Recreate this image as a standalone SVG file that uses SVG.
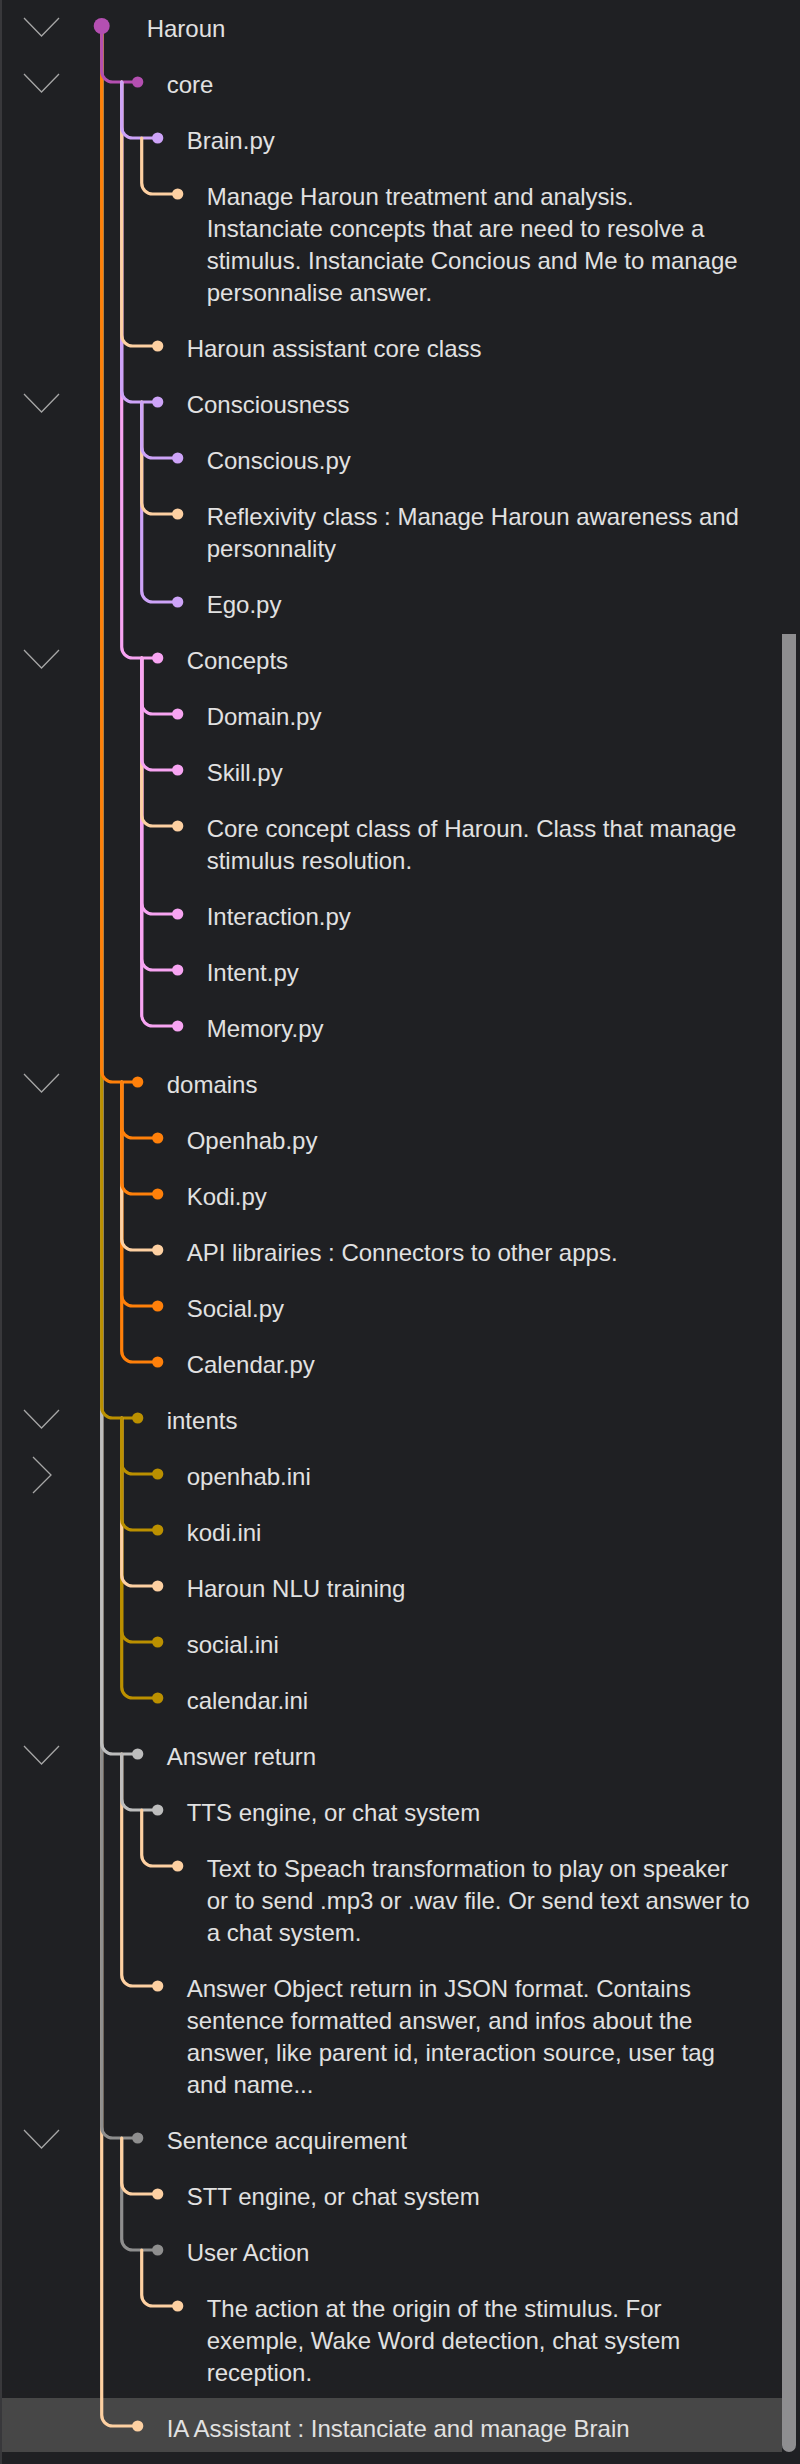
<svg xmlns="http://www.w3.org/2000/svg" width="800" height="2464" viewBox="0 0 800 2464">
<style>
.t{font-family:"Liberation Sans",Arial,sans-serif;font-size:24px;fill:#e1e1e1}
.c{fill:none;stroke-width:3.2;stroke-linecap:round}
.chev{fill:none;stroke:#a6a6a6;stroke-width:1.3}
.pu{stroke:#b44fb1}.dpu{fill:#b44fb1}
.la{stroke:#cda3f8}.dla{fill:#cda3f8}
.pk{stroke:#f7a4f2}.dpk{fill:#f7a4f2}
.pe{stroke:#fdd0a2}.dpe{fill:#fdd0a2}
.or{stroke:#ff800a}.dor{fill:#ff800a}
.ye{stroke:#bb9000}.dye{fill:#bb9000}
.lg{stroke:#bdbdbd}.dlg{fill:#bdbdbd}
.gr{stroke:#8e8e8e}.dgr{fill:#8e8e8e}
</style>
<rect x="0" y="0" width="800" height="2464" fill="#1f2023"/>
<rect x="0" y="0" width="2" height="2464" fill="#38383b"/>
<rect x="2" y="2398" width="780" height="54" fill="#474747"/>
<path d="M782 634 H796 V2445 A7 7 0 0 1 789 2452 A7 7 0 0 1 782 2445 Z" fill="#8e8e90"/>

<g id="connectors">
<path class="c pe" d="M101.7 26 V2415 A11 11 0 0 0 112.7 2426 H137.7"/>
<path class="c gr" d="M101.7 26 V2127 A11 11 0 0 0 112.7 2138 H137.7"/>
<path class="c lg" d="M101.7 26 V1743 A11 11 0 0 0 112.7 1754 H137.7"/>
<path class="c ye" d="M101.7 26 V1407 A11 11 0 0 0 112.7 1418 H137.7"/>
<path class="c or" d="M101.7 26 V1071 A11 11 0 0 0 112.7 1082 H137.7"/>
<path class="c pu" d="M101.7 26 V71 A11 11 0 0 0 112.7 82 H137.7"/>

<path class="c pk" d="M121.7 82 V647 A11 11 0 0 0 132.7 658 H157.7"/>
<path class="c la" d="M121.7 82 V391 A11 11 0 0 0 132.7 402 H157.7"/>
<path class="c pe" d="M121.7 82 V335 A11 11 0 0 0 132.7 346 H157.7"/>
<path class="c la" d="M121.7 82 V127 A11 11 0 0 0 132.7 138 H157.7"/>

<path class="c pe" d="M141.7 138 V183 A11 11 0 0 0 152.7 194 H177.7"/>

<path class="c la" d="M141.7 402 V591 A11 11 0 0 0 152.7 602 H177.7"/>
<path class="c pe" d="M141.7 402 V503 A11 11 0 0 0 152.7 514 H177.7"/>
<path class="c la" d="M141.7 402 V447 A11 11 0 0 0 152.7 458 H177.7"/>

<path class="c pk" d="M141.7 658 V1015 A11 11 0 0 0 152.7 1026 H177.7"/>
<path class="c pk" d="M141.7 658 V959 A11 11 0 0 0 152.7 970 H177.7"/>
<path class="c pk" d="M141.7 658 V903 A11 11 0 0 0 152.7 914 H177.7"/>
<path class="c pe" d="M141.7 658 V815 A11 11 0 0 0 152.7 826 H177.7"/>
<path class="c pk" d="M141.7 658 V759 A11 11 0 0 0 152.7 770 H177.7"/>
<path class="c pk" d="M141.7 658 V703 A11 11 0 0 0 152.7 714 H177.7"/>

<path class="c or" d="M121.7 1082 V1351 A11 11 0 0 0 132.7 1362 H157.7"/>
<path class="c or" d="M121.7 1082 V1295 A11 11 0 0 0 132.7 1306 H157.7"/>
<path class="c pe" d="M121.7 1082 V1239 A11 11 0 0 0 132.7 1250 H157.7"/>
<path class="c or" d="M121.7 1082 V1183 A11 11 0 0 0 132.7 1194 H157.7"/>
<path class="c or" d="M121.7 1082 V1127 A11 11 0 0 0 132.7 1138 H157.7"/>

<path class="c ye" d="M121.7 1418 V1687 A11 11 0 0 0 132.7 1698 H157.7"/>
<path class="c ye" d="M121.7 1418 V1631 A11 11 0 0 0 132.7 1642 H157.7"/>
<path class="c pe" d="M121.7 1418 V1575 A11 11 0 0 0 132.7 1586 H157.7"/>
<path class="c ye" d="M121.7 1418 V1519 A11 11 0 0 0 132.7 1530 H157.7"/>
<path class="c ye" d="M121.7 1418 V1463 A11 11 0 0 0 132.7 1474 H157.7"/>

<path class="c pe" d="M121.7 1754 V1975 A11 11 0 0 0 132.7 1986 H157.7"/>
<path class="c lg" d="M121.7 1754 V1799 A11 11 0 0 0 132.7 1810 H157.7"/>
<path class="c pe" d="M141.7 1810 V1855 A11 11 0 0 0 152.7 1866 H177.7"/>

<path class="c gr" d="M121.7 2138 V2239 A11 11 0 0 0 132.7 2250 H157.7"/>
<path class="c pe" d="M121.7 2138 V2183 A11 11 0 0 0 132.7 2194 H157.7"/>
<path class="c pe" d="M141.7 2250 V2295 A11 11 0 0 0 152.7 2306 H177.7"/>
</g>

<g id="n-haroun"><path class="chev" d="M24 18 L41.5 36 L59 18"/><circle class="dpu" cx="101.7" cy="26" r="8"/><text class="t" x="146.7" y="36.5">Haroun</text></g>
<g id="n-core"><path class="chev" d="M24 74 L41.5 92 L59 74"/><circle class="dpu" cx="137.7" cy="82" r="5.6"/><text class="t" x="166.7" y="92.5">core</text></g>
<g id="n-brain"><circle class="dla" cx="157.7" cy="138" r="5.6"/><text class="t" x="186.7" y="148.5">Brain.py</text></g>
<g id="n-brain-note"><circle class="dpe" cx="177.7" cy="194" r="5.6"/><text class="t" x="206.7" y="204.5"><tspan x="206.7">Manage Haroun treatment and analysis.</tspan><tspan x="206.7" dy="32">Instanciate concepts that are need to resolve a</tspan><tspan x="206.7" dy="32">stimulus. Instanciate Concious and Me to manage</tspan><tspan x="206.7" dy="32">personnalise answer.</tspan></text></g>
<g id="n-core-note"><circle class="dpe" cx="157.7" cy="346" r="5.6"/><text class="t" x="186.7" y="356.5">Haroun assistant core class</text></g>
<g id="n-consciousness"><path class="chev" d="M24 394 L41.5 412 L59 394"/><circle class="dla" cx="157.7" cy="402" r="5.6"/><text class="t" x="186.7" y="412.5">Consciousness</text></g>
<g id="n-conscious"><circle class="dla" cx="177.7" cy="458" r="5.6"/><text class="t" x="206.7" y="468.5">Conscious.py</text></g>
<g id="n-reflexivity"><circle class="dpe" cx="177.7" cy="514" r="5.6"/><text class="t" x="206.7" y="524.5"><tspan x="206.7">Reflexivity class : Manage Haroun awareness and</tspan><tspan x="206.7" dy="32">personnality</tspan></text></g>
<g id="n-ego"><circle class="dla" cx="177.7" cy="602" r="5.6"/><text class="t" x="206.7" y="612.5">Ego.py</text></g>
<g id="n-concepts"><path class="chev" d="M24 650 L41.5 668 L59 650"/><circle class="dpk" cx="157.7" cy="658" r="5.6"/><text class="t" x="186.7" y="668.5">Concepts</text></g>
<g id="n-domain"><circle class="dpk" cx="177.7" cy="714" r="5.6"/><text class="t" x="206.7" y="724.5">Domain.py</text></g>
<g id="n-skill"><circle class="dpk" cx="177.7" cy="770" r="5.6"/><text class="t" x="206.7" y="780.5">Skill.py</text></g>
<g id="n-concepts-note"><circle class="dpe" cx="177.7" cy="826" r="5.6"/><text class="t" x="206.7" y="836.5"><tspan x="206.7">Core concept class of Haroun. Class that manage</tspan><tspan x="206.7" dy="32">stimulus resolution.</tspan></text></g>
<g id="n-interaction"><circle class="dpk" cx="177.7" cy="914" r="5.6"/><text class="t" x="206.7" y="924.5">Interaction.py</text></g>
<g id="n-intent"><circle class="dpk" cx="177.7" cy="970" r="5.6"/><text class="t" x="206.7" y="980.5">Intent.py</text></g>
<g id="n-memory"><circle class="dpk" cx="177.7" cy="1026" r="5.6"/><text class="t" x="206.7" y="1036.5">Memory.py</text></g>
<g id="n-domains"><path class="chev" d="M24 1074 L41.5 1092 L59 1074"/><circle class="dor" cx="137.7" cy="1082" r="5.6"/><text class="t" x="166.7" y="1092.5">domains</text></g>
<g id="n-openhab"><circle class="dor" cx="157.7" cy="1138" r="5.6"/><text class="t" x="186.7" y="1148.5">Openhab.py</text></g>
<g id="n-kodi"><circle class="dor" cx="157.7" cy="1194" r="5.6"/><text class="t" x="186.7" y="1204.5">Kodi.py</text></g>
<g id="n-domains-note"><circle class="dpe" cx="157.7" cy="1250" r="5.6"/><text class="t" x="186.7" y="1260.5">API librairies : Connectors to other apps.</text></g>
<g id="n-social"><circle class="dor" cx="157.7" cy="1306" r="5.6"/><text class="t" x="186.7" y="1316.5">Social.py</text></g>
<g id="n-calendar"><circle class="dor" cx="157.7" cy="1362" r="5.6"/><text class="t" x="186.7" y="1372.5">Calendar.py</text></g>
<g id="n-intents"><path class="chev" d="M24 1410 L41.5 1428 L59 1410"/><circle class="dye" cx="137.7" cy="1418" r="5.6"/><text class="t" x="166.7" y="1428.5">intents</text></g>
<g id="n-openhab-ini"><path class="chev" d="M33 1457 L51 1475 L33 1493"/><circle class="dye" cx="157.7" cy="1474" r="5.6"/><text class="t" x="186.7" y="1484.5">openhab.ini</text></g>
<g id="n-kodi-ini"><circle class="dye" cx="157.7" cy="1530" r="5.6"/><text class="t" x="186.7" y="1540.5">kodi.ini</text></g>
<g id="n-intents-note"><circle class="dpe" cx="157.7" cy="1586" r="5.6"/><text class="t" x="186.7" y="1596.5">Haroun NLU training</text></g>
<g id="n-social-ini"><circle class="dye" cx="157.7" cy="1642" r="5.6"/><text class="t" x="186.7" y="1652.5">social.ini</text></g>
<g id="n-calendar-ini"><circle class="dye" cx="157.7" cy="1698" r="5.6"/><text class="t" x="186.7" y="1708.5">calendar.ini</text></g>
<g id="n-answer"><path class="chev" d="M24 1746 L41.5 1764 L59 1746"/><circle class="dlg" cx="137.7" cy="1754" r="5.6"/><text class="t" x="166.7" y="1764.5">Answer return</text></g>
<g id="n-tts"><circle class="dlg" cx="157.7" cy="1810" r="5.6"/><text class="t" x="186.7" y="1820.5">TTS engine, or chat system</text></g>
<g id="n-tts-note"><circle class="dpe" cx="177.7" cy="1866" r="5.6"/><text class="t" x="206.7" y="1876.5"><tspan x="206.7">Text to Speach transformation to play on speaker</tspan><tspan x="206.7" dy="32">or to send .mp3 or .wav file. Or send text answer to</tspan><tspan x="206.7" dy="32">a chat system.</tspan></text></g>
<g id="n-answer-note"><circle class="dpe" cx="157.7" cy="1986" r="5.6"/><text class="t" x="186.7" y="1996.5"><tspan x="186.7">Answer Object return in JSON format. Contains</tspan><tspan x="186.7" dy="32">sentence formatted answer, and infos about the</tspan><tspan x="186.7" dy="32">answer, like parent id, interaction source, user tag</tspan><tspan x="186.7" dy="32">and name...</tspan></text></g>
<g id="n-sentence"><path class="chev" d="M24 2130 L41.5 2148 L59 2130"/><circle class="dgr" cx="137.7" cy="2138" r="5.6"/><text class="t" x="166.7" y="2148.5">Sentence acquirement</text></g>
<g id="n-stt"><circle class="dpe" cx="157.7" cy="2194" r="5.6"/><text class="t" x="186.7" y="2204.5">STT engine, or chat system</text></g>
<g id="n-user-action"><circle class="dgr" cx="157.7" cy="2250" r="5.6"/><text class="t" x="186.7" y="2260.5">User Action</text></g>
<g id="n-user-action-note"><circle class="dpe" cx="177.7" cy="2306" r="5.6"/><text class="t" x="206.7" y="2316.5"><tspan x="206.7">The action at the origin of the stimulus. For</tspan><tspan x="206.7" dy="32">exemple, Wake Word detection, chat system</tspan><tspan x="206.7" dy="32">reception.</tspan></text></g>
<g id="n-ia-assistant"><circle class="dpe" cx="137.7" cy="2426" r="5.6"/><text class="t" x="166.7" y="2436.5">IA Assistant : Instanciate and manage Brain</text></g>
</svg>
